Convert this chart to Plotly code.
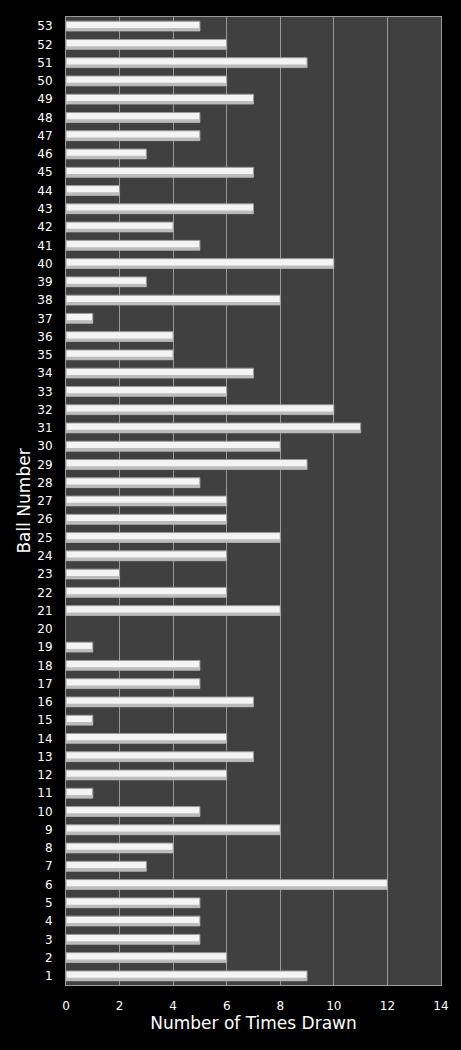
import plotly.graph_objects as go

# Ball numbers 1..53 and how often each was drawn
balls = list(range(1, 54))
times_drawn = [
    9, 6, 5, 5, 5, 12, 3, 4, 8, 5,      # 1-10
    1, 6, 7, 6, 1, 7, 5, 5, 1, 0,       # 11-20
    8, 6, 2, 6, 8, 6, 6, 5, 9, 8,       # 21-30
    11, 10, 6, 7, 4, 4, 1, 8, 3, 10,    # 31-40
    5, 4, 7, 2, 7, 3, 5, 5, 7, 6,       # 41-50
    9, 6, 5,                            # 51-53
]
x_ticks = [0, 2, 4, 6, 8, 10, 12, 14]

FONT = "Verdana, DejaVu Sans, sans-serif"

# no outline on empty bars (ball 20)
edge_w = [1 if v > 0 else 0 for v in times_drawn]

fig = go.Figure()

# main bar: light fill with grey edge
fig.add_trace(go.Bar(
    x=times_drawn, y=balls, orientation="h",
    width=0.54,
    marker=dict(color="#f4f4f4", line=dict(color="#9a9a9a", width=edge_w)),
    hoverinfo="x+y",
))
# darker lower strip to fake the glossy shading
fig.add_trace(go.Bar(
    x=times_drawn, y=balls, orientation="h",
    width=0.17, offset=-0.27,
    marker=dict(color="#bcbcbc", line=dict(width=0)),
    hoverinfo="skip",
))

fig.update_layout(
    width=461, height=1050,
    paper_bgcolor="#000000",
    plot_bgcolor="#404040",
    barmode="overlay",
    showlegend=False,
    margin=dict(l=66, r=20, t=17, b=65),
    font=dict(family=FONT, color="#ffffff", size=12),
    xaxis=dict(
        range=[0, 14], tickvals=x_ticks,
        showgrid=True, gridcolor="#9a9a9a", gridwidth=1,
        zeroline=False,
        showline=True, linecolor="#9a9a9a", mirror=True,
        ticks="", tickfont=dict(size=12), ticklabelstandoff=10,
        title=dict(text="Number of Times Drawn", font=dict(size=17), standoff=4),
    ),
    yaxis=dict(
        range=[0.5, 53.5], tickvals=balls,
        showgrid=False, zeroline=False,
        showline=True, linecolor="#9a9a9a", mirror=True,
        ticks="", tickfont=dict(size=12), ticklabelstandoff=10,
        title=dict(text="Ball Number", font=dict(size=17), standoff=2),
    ),
)

fig.write_html(
    "out.html",
    config={"displayModeBar": False},
    post_script="document.body.style.margin='0';document.body.style.background='#000';",
)
